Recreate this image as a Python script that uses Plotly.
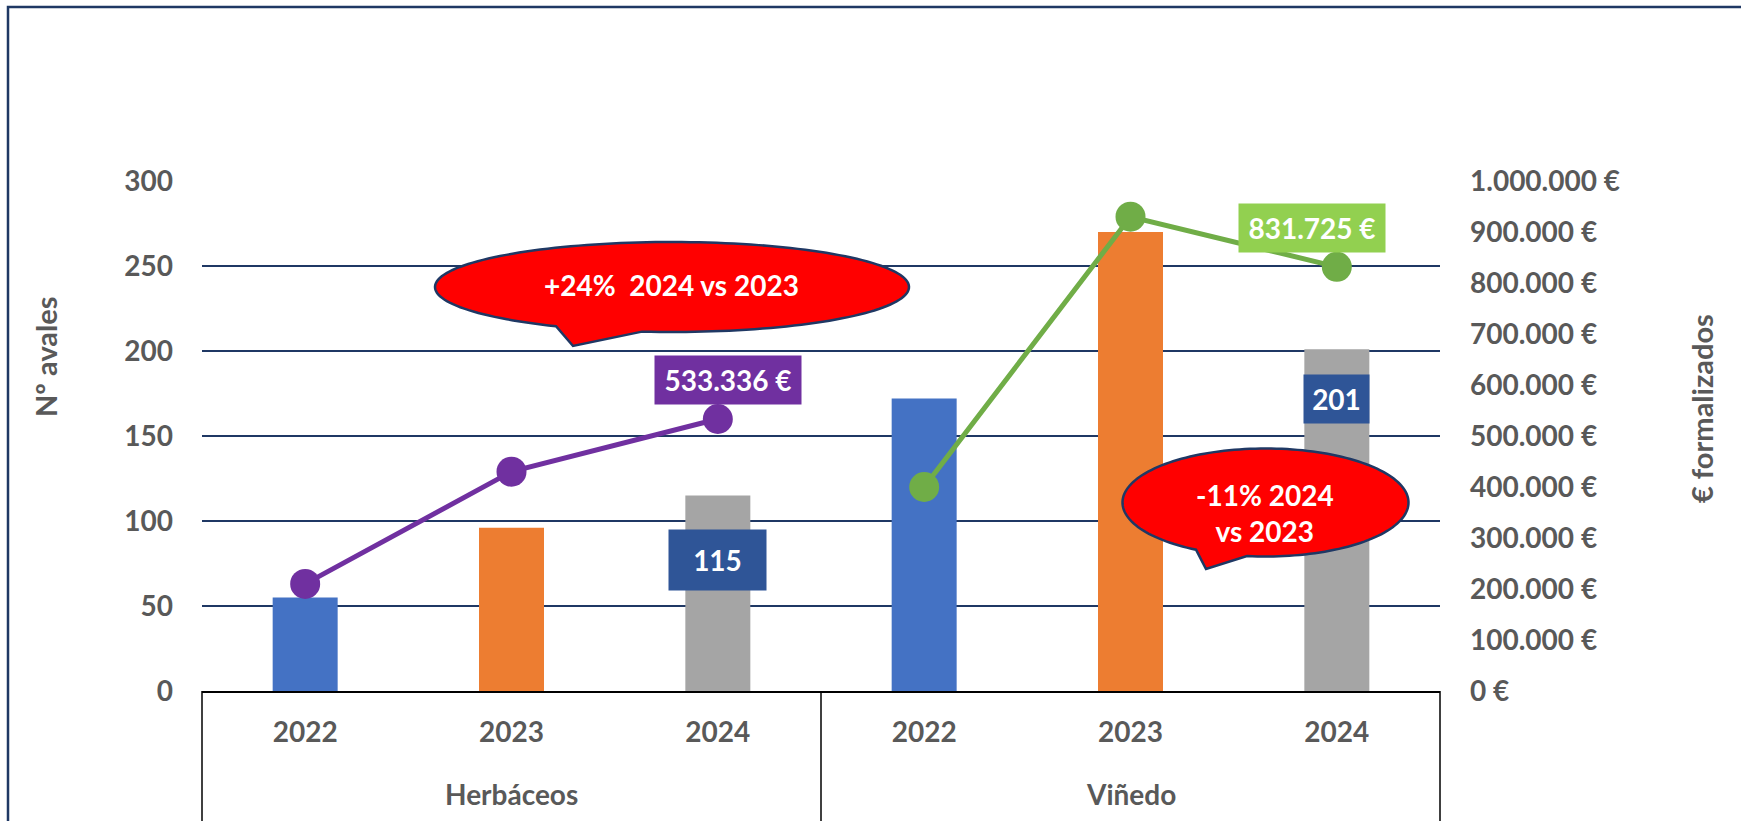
import numpy as np
import plotly.graph_objects as go

# ---------------- data ----------------
groups = ["Herbáceos", "Viñedo"]
years = ["2022", "2023", "2024"]
avales_herbaceos = [55, 96, 115]
avales_vinedo = [172, 270, 201]
euros_herbaceos = [210000, 430000, 533336]
euros_vinedo = [400000, 930000, 831725]
left_ticks = [0, 50, 100, 150, 200, 250, 300]
right_ticks = [0, 100000, 200000, 300000, 400000, 500000, 600000, 700000, 800000, 900000, 1000000]
callout_herb = "+24%  2024 vs 2023"
callout_vin = "-11% 2024<br>vs 2023"

# ---------------- styles ----------------
FONT = "Lato"
GREY = "#595959"
NAVY = "#1F3864"
year_colors = {"2022": "#4472C4", "2023": "#ED7D31", "2024": "#A5A5A5"}
W, H = 1741, 821
ML, MR, MT, MB = 202, 301, 181, 130
PW = W - ML - MR
PH = H - MT - MB


def pxx(x):
    return (x - ML) / PW


def pyy(y):
    return (H - MB - y) / PH


def fmt_eur(v):
    return f"{v:,.0f} €".replace(",", ".")


cats = [f"{g} {y}" for g in groups for y in years]
bar_vals = avales_herbaceos + avales_vinedo
bar_cols = [year_colors[y] for g in groups for y in years]

fig = go.Figure()
fig.add_trace(go.Bar(
    x=cats, y=bar_vals, marker=dict(color=bar_cols, line=dict(width=0)),
    width=0.315, yaxis="y", hoverinfo="skip"))

line_specs = [
    (cats[:3], euros_herbaceos, "#7030A0"),
    (cats[3:], euros_vinedo, "#70AD47"),
]
for xs, ys, col in line_specs:
    fig.add_trace(go.Scatter(
        x=xs, y=ys, yaxis="y2", mode="lines+markers",
        line=dict(color=col, width=5),
        marker=dict(size=30, color=col), hoverinfo="skip"))

annotations = []
# bar value labels (2024)
bar_label_style = [
    (cats[2], avales_herbaceos[2], 97, 60, -33),
    (cats[5], avales_vinedo[2], 65, 48, -25),
]
for x, v, w, h, ys in bar_label_style:
    annotations.append(dict(
        x=x, y=v, xref="x", yref="y", text=str(v), showarrow=False,
        xanchor="center", yanchor="top", yshift=ys, width=w, height=h, borderpad=0,
        bgcolor="#2F5597", font=dict(family=FONT, size=28, color="white", weight="bold")))

# euro labels (2024)
eur_label_style = [
    (cats[2], euros_herbaceos[2], "#7030A0", 10),
    (cats[5], euros_vinedo[2], "#92D050", -25),
]
for x, v, col, xs in eur_label_style:
    annotations.append(dict(
        x=x, y=v, xref="x", yref="y2", text=fmt_eur(v), showarrow=False,
        xanchor="center", yanchor="bottom", yshift=14, xshift=xs, width=146, height=48,
        borderpad=0, bgcolor=col,
        font=dict(family=FONT, size=28, color="white", weight="bold")))

# group labels
for i, g in enumerate(groups):
    annotations.append(dict(
        x=cats[i * 3 + 1], y=pyy(794), xref="x", yref="paper", text=g,
        showarrow=False, xanchor="center", yanchor="middle",
        font=dict(family=FONT, size=28, color=GREY, weight="bold")))

# axis titles
annotations.append(dict(x=pxx(45), y=pyy(357), xref="paper", yref="paper",
                        text="Nº avales", textangle=-90, showarrow=False,
                        xanchor="center", yanchor="middle",
                        font=dict(family=FONT, size=29, color=GREY, weight="bold")))
annotations.append(dict(x=pxx(1701), y=pyy(408), xref="paper", yref="paper",
                        text="€ formalizados", textangle=-90, showarrow=False,
                        xanchor="center", yanchor="middle",
                        font=dict(family=FONT, size=29, color=GREY, weight="bold")))

# callout texts
annotations.append(dict(x=pxx(671), y=pyy(285), xref="paper", yref="paper",
                        text=callout_herb, showarrow=False,
                        xanchor="center", yanchor="middle",
                        font=dict(family=FONT, size=28, color="white", weight="bold")))
annotations.append(dict(x=pxx(1265), y=pyy(513), xref="paper", yref="paper",
                        text=callout_vin, showarrow=False,
                        xanchor="center", yanchor="middle",
                        font=dict(family=FONT, size=28, color="white", weight="bold")))


def callout_path(cx, cy, rx, ry, bx1, bx2, tip):
    t1 = np.degrees(np.arccos((bx1 - cx) / rx))
    t2 = np.degrees(np.arccos((bx2 - cx) / rx))
    angs = np.radians(np.linspace(t2, t1 - 360, 160))
    pts = [(cx + rx * np.cos(a), cy + ry * np.sin(a)) for a in angs]
    pts.append(tip)
    d = "M " + " L ".join(f"{pxx(x):.5f},{pyy(y):.5f}" for x, y in pts) + " Z"
    return d


shapes = []
shapes.append(dict(type="path", xref="paper", yref="paper",
                   path=callout_path(672, 287, 237, 45, 556, 642, (573, 346)),
                   fillcolor="#FF0000", line=dict(color=NAVY, width=2.5)))
shapes.append(dict(type="path", xref="paper", yref="paper",
                   path=callout_path(1265.5, 502.5, 143, 54, 1196, 1247, (1206, 569)),
                   fillcolor="#FF0000", line=dict(color=NAVY, width=2.5)))

# category box lines
for xp in [0, 0.5, 1]:
    shapes.append(dict(type="line", xref="paper", yref="paper", x0=xp, x1=xp,
                       y0=0, y1=pyy(830), line=dict(color="black", width=1.5)))
# outer frame
shapes.append(dict(type="rect", xref="paper", yref="paper",
                   x0=pxx(8), x1=pxx(1760), y0=pyy(840), y1=pyy(7),
                   line=dict(color=NAVY, width=2.5), fillcolor="rgba(0,0,0,0)"))

fig.update_layout(
    width=W, height=H, margin=dict(l=ML, r=MR, t=MT, b=MB),
    plot_bgcolor="white", paper_bgcolor="white", showlegend=False,
    separators=",.", bargap=0.5,
    font=dict(family=FONT, color=GREY),
    xaxis=dict(type="category", tickvals=cats, ticktext=[y for g in groups for y in years],
               showline=True, linecolor="black", linewidth=2, showgrid=False,
               ticks="", ticklabelstandoff=15,
               tickfont=dict(family=FONT, size=28, color=GREY, weight="bold")),
    yaxis=dict(range=[0, 300], tickvals=left_ticks, showgrid=True, gridcolor=NAVY,
               gridwidth=2, zeroline=False, showline=False, ticks="",
               ticklabelstandoff=28,
               tickfont=dict(family=FONT, size=28, color=GREY, weight="bold")),
    yaxis2=dict(range=[0, 1000000], tickvals=right_ticks,
                ticktext=[fmt_eur(v) for v in right_ticks],
                overlaying="y", side="right",
                showgrid=False, zeroline=False, showline=False, ticks="",
                ticklabelstandoff=29,
                tickfont=dict(family=FONT, size=28, color=GREY, weight="bold")),
    annotations=annotations, shapes=shapes,
)

fig.write_html("out.html", config={"displayModeBar": False},
               post_script="document.body.style.margin='0';")
